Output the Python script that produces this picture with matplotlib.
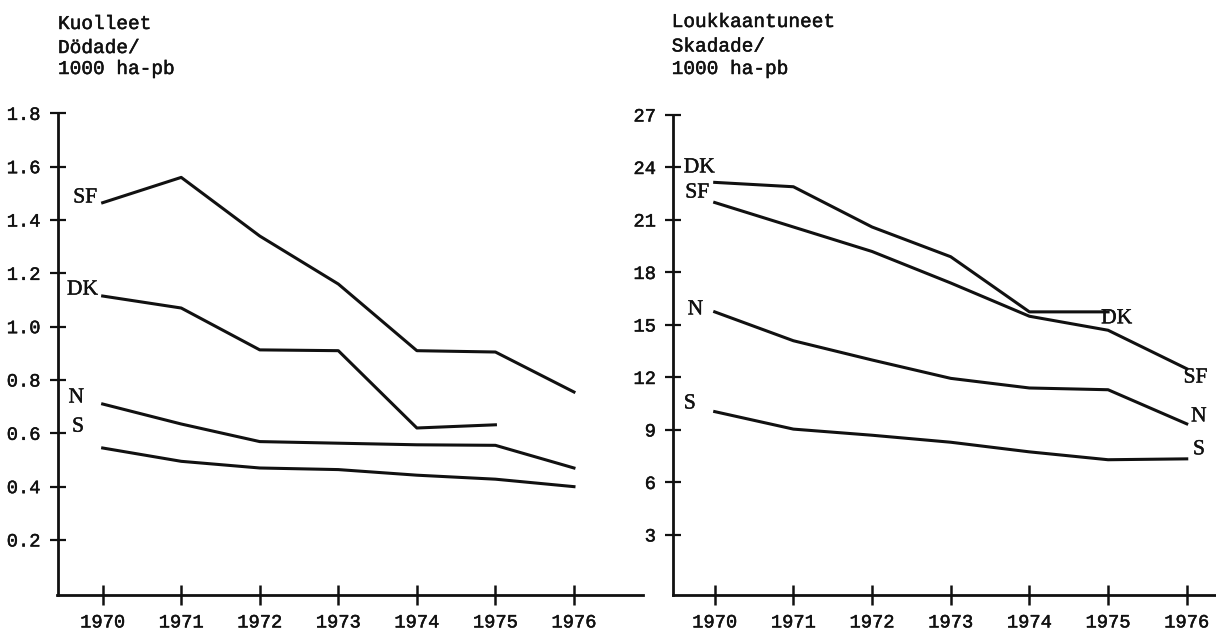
import matplotlib
matplotlib.use("Agg")
import matplotlib.pyplot as plt
import matplotlib.patheffects as pe

years = [1970, 1971, 1972, 1973, 1974, 1975, 1976]
year_labels = ["1970", "1971", "1972", "1973", "1974", "1975", "1976"]

# Kuolleet / Dödade per 1000 ha-pb
dead_SF = [1.465, 1.56, 1.34, 1.16, 0.91, 0.905, 0.755]
dead_DK = [1.115, 1.07, 0.913, 0.91, 0.62, 0.632]
dead_N = [0.71, 0.635, 0.569, 0.563, 0.557, 0.555, 0.47]
dead_S = [0.545, 0.495, 0.47, 0.464, 0.443, 0.428, 0.40]
dead_ticks = [0.2, 0.4, 0.6, 0.8, 1.0, 1.2, 1.4, 1.6, 1.8]
dead_ticklabels = ["0.2", "0.4", "0.6", "0.8", "1.0", "1.2", "1.4", "1.6", "1.8"]

# Loukkaantuneet / Skadade per 1000 ha-pb
inj_DK = [23.15, 22.9, 20.6, 18.9, 15.75, 15.75]
inj_SF = [22.0, 20.6, 19.2, 17.4, 15.5, 14.7, 12.5]
inj_N = [15.75, 14.1, 13.0, 11.95, 11.4, 11.3, 9.35]
inj_S = [10.05, 9.05, 8.7, 8.3, 7.75, 7.3, 7.35]
inj_ticks = [3, 6, 9, 12, 15, 18, 21, 24, 27]
inj_ticklabels = ["3", "6", "9", "12", "15", "18", "21", "24", "27"]

MONO = "Liberation Mono"
SERIF = "Liberation Serif"
INK = "#111111"
thick = [pe.withStroke(linewidth=0.35, foreground=INK)]

W, H = 1216, 630
fig = plt.figure(figsize=(W / 100, H / 100), dpi=100)
axL = fig.add_axes([57.5 / W, 1 - 595 / H, (642.7 - 57.5) / W, (595 - 113.4) / H])
axR = fig.add_axes([672.7 / W, 1 - 595 / H, (1216 - 672.7) / W, (595 - 115) / H])


def style(ax, xlim, ylim, yt, ytl, ypad):
    ax.set_xlim(*xlim)
    ax.set_ylim(*ylim)
    for s in ("top", "right"):
        ax.spines[s].set_visible(False)
    for s in ("left", "bottom"):
        ax.spines[s].set_linewidth(2.0)
        ax.spines[s].set_color(INK)
    ax.set_xticks(years)
    ax.set_xticklabels(year_labels, fontfamily=MONO, fontsize=13.5, color=INK)
    ax.set_yticks(yt)
    ax.set_yticklabels(ytl, fontfamily=MONO, fontsize=13.5, color=INK)
    for lab in ax.get_xticklabels() + ax.get_yticklabels():
        lab.set_path_effects(thick)
    ax.tick_params(axis="x", direction="inout", length=14, width=1.8, pad=7, colors=INK)
    ax.tick_params(axis="y", direction="inout", length=11.5, width=1.6, pad=ypad, colors=INK)
    ax.patch.set_alpha(0)


style(axL, (1969.425, 1976.875), (-0.0064, 1.8), dead_ticks, dead_ticklabels, 6.5)
style(axR, (1969.466, 1976.372), (-0.43, 27), inj_ticks, inj_ticklabels, 6.3)

lw = 2.2
for ax, series in ((axL, [dead_SF, dead_DK, dead_N, dead_S]),
                   (axR, [inj_DK, inj_SF, inj_N, inj_S])):
    for vals in series:
        ax.plot(years[:len(vals)], vals, color=INK, lw=lw, solid_joinstyle="round")

tkw = dict(fontfamily=SERIF, fontsize=15.5, color=INK, textcoords="offset points",
           va="center", path_effects=[pe.withStroke(linewidth=0.3, foreground=INK)])
# left chart labels (at start of lines)
axL.annotate("SF", xy=(years[0], dead_SF[0]), xytext=(-4.1, 3.4), ha="right", **tkw)
axL.annotate("DK", xy=(years[0], dead_DK[0]), xytext=(-3.4, 4.3), ha="right", **tkw)
axL.annotate("N", xy=(years[0], dead_N[0]), xytext=(-13.5, 4.3), ha="right", **tkw)
axL.annotate("S", xy=(years[0], dead_S[0]), xytext=(-13.5, 15), ha="right", **tkw)

# right chart labels
axR.annotate("DK", xy=(years[0], inj_DK[0]), xytext=(0, 10.4), ha="right", **tkw)
axR.annotate("SF", xy=(years[0], inj_SF[0]), xytext=(-4.1, 6.8), ha="right", **tkw)
axR.annotate("N", xy=(years[0], inj_N[0]), xytext=(-8.4, 1.4), ha="right", **tkw)
axR.annotate("S", xy=(years[0], inj_S[0]), xytext=(-13.7, 5.5), ha="right", **tkw)
axR.annotate("DK", xy=(years[len(inj_DK) - 1], inj_DK[-1]), xytext=(-5, -5), ha="left", **tkw)
axR.annotate("SF", xy=(years[-1], inj_SF[-1]), xytext=(-2.3, -6.7), ha="left", **tkw)
axR.annotate("N", xy=(years[-1], inj_N[-1]), xytext=(3.1, 5), ha="left", **tkw)
axR.annotate("S", xy=(years[-1], inj_S[-1]), xytext=(4.5, 6.5), ha="left", **tkw)

# axis titles
title_kw = dict(fontfamily=MONO, fontsize=14, color=INK, va="baseline", path_effects=thick)
fig.text(58 / W, 1 - 29 / H, "Kuolleet", **title_kw)
fig.text(58 / W, 1 - 53 / H, "Dödade/", **title_kw)
fig.text(58 / W, 1 - 74 / H, "1000 ha-pb", **title_kw)

fig.text(671.7 / W, 1 - 27 / H, "Loukkaantuneet", **title_kw)
fig.text(671.7 / W, 1 - 51.5 / H, "Skadade/", **title_kw)
fig.text(671.7 / W, 1 - 74 / H, "1000 ha-pb", **title_kw)

fig.savefig("out.png", dpi=100, facecolor="white")
